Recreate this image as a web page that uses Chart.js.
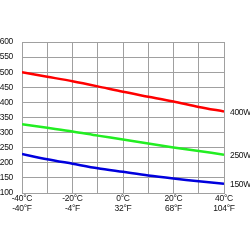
<!DOCTYPE html>
<html><head><meta charset="utf-8">
<script src="https://cdn.jsdelivr.net/npm/chart.js@4/dist/chart.umd.min.js"></script>
<style>html,body{margin:0;padding:0;background:#fff}#wrap{width:250px;height:250px}</style>
</head><body><div id="wrap"><canvas id="c" width="250" height="250"></canvas></div>
<script>
const tempsC = [-40, -30, -20, -10, 0, 10, 20, 30, 40];
const series400 = [500, 485, 470, 453, 435, 419, 403, 385, 370];
const series250 = [328, 316, 304, 290, 277, 264, 251, 239, 227];
const series150 = [229, 212, 197, 182, 170, 158, 148, 139, 131];
const seriesNames = ['400W', '250W', '150W'];
const seriesColors = ['#ff0000', '#22ee22', '#0000dd'];
const yTicks = [100, 150, 200, 250, 300, 350, 400, 450, 500, 550, 600];
const xLabelsC = {'-40': '-40°C', '-20': '-20°C', '0': '0°C', '20': '20°C', '40': '40°C'};
const xLabelsF = {'-40': '-40°F', '-20': '-4°F', '0': '32°F', '20': '68°F', '40': '104°F'};

const FONT = "'Liberation Sans', Arial, sans-serif";
const SPACING = '-0.3px';
const allSeries = [series400, series250, series150];

const narrowText = {
  id: 'narrowText',
  beforeInit(chart) { chart.ctx.letterSpacing = SPACING; },
  beforeLayout(chart) { chart.ctx.letterSpacing = SPACING; },
  beforeDraw(chart) { chart.ctx.letterSpacing = SPACING; }
};

const endLabels = {
  id: 'endLabels',
  afterDatasetsDraw(chart) {
    const ctx = chart.ctx;
    const xs = chart.scales.x, ys = chart.scales.y;
    ctx.save();
    ctx.letterSpacing = SPACING;
    ctx.font = '8.5px ' + FONT;
    ctx.fillStyle = '#111';
    ctx.textBaseline = 'middle';
    ctx.textAlign = 'left';
    allSeries.forEach((s, i) => {
      const x = xs.getPixelForValue(tempsC[tempsC.length - 1]) + 6;
      const y = ys.getPixelForValue(s[s.length - 1]) + 1;
      ctx.fillText(seriesNames[i], x, y);
    });
    ctx.restore();
  }
};

new Chart(document.getElementById('c'), {
  type: 'line',
  data: {
    datasets: allSeries.map((s, i) => ({
      label: seriesNames[i],
      data: s.map((v, k) => ({x: tempsC[k], y: v})),
      borderColor: seriesColors[i],
      borderWidth: 2.5,
      pointRadius: 0,
      tension: 0.3,
      fill: false
    }))
  },
  options: {
    responsive: false,
    animation: false,
    layout: {padding: {top: 42, right: 26, bottom: 35, left: 0}},
    plugins: {legend: {display: false}, tooltip: {enabled: false}},
    scales: {
      x: {
        type: 'linear', min: -40, max: 40,
        afterFit: s => { s.height = 22; },
        grid: {color: '#a0a0a0', lineWidth: 1, drawTicks: false},
        border: {color: '#a0a0a0'},
        ticks: {
          stepSize: 10, autoSkip: false, maxRotation: 0, padding: 0,
          color: '#111', font: {family: FONT, size: 8.5, lineHeight: 1.25},
          callback: v => (xLabelsC[String(v)] ? [xLabelsC[String(v)], xLabelsF[String(v)]] : '')
        }
      },
      y: {
        min: yTicks[0], max: yTicks[yTicks.length - 1],
        afterFit: s => { s.width = 22; },
        grid: {color: '#a0a0a0', lineWidth: 1, drawTicks: false},
        border: {color: '#a0a0a0'},
        ticks: {stepSize: 50, padding: 9, color: '#111', font: {family: FONT, size: 8.5}}
      }
    }
  },
  plugins: [narrowText, endLabels]
});
</script></body></html>
